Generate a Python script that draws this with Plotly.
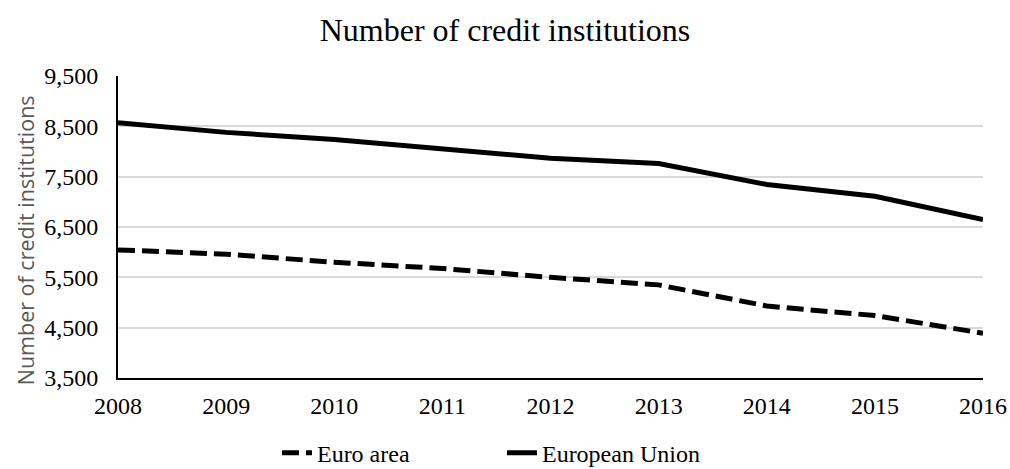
import plotly.graph_objects as go

years = [2008, 2009, 2010, 2011, 2012, 2013, 2014, 2015, 2016]
euro_area = [6045, 5960, 5800, 5675, 5500, 5350, 4930, 4740, 4390]
european_union = [8570, 8380, 8240, 8060, 7865, 7760, 7345, 7110, 6650]
y_ticks = [3500, 4500, 5500, 6500, 7500, 8500, 9500]
y_tick_labels = ["3,500", "4,500", "5,500", "6,500", "7,500", "8,500", "9,500"]

serif = "Liberation Serif"

fig = go.Figure()
fig.add_trace(go.Scatter(x=years, y=euro_area, mode="lines", name="Euro area",
                         line=dict(color="black", width=5, dash="17px,7px")))
fig.add_trace(go.Scatter(x=years, y=european_union, mode="lines", name="European Union",
                         line=dict(color="black", width=5)))

fig.update_layout(
    width=1010, height=469,
    margin=dict(l=118, r=27, t=76, b=91, autoexpand=False),
    paper_bgcolor="white", plot_bgcolor="white",
    title=dict(text="Number of credit institutions", x=0.5, xanchor="center",
               y=0.937, yanchor="middle",
               font=dict(family=serif, size=32, color="black")),
    font=dict(family=serif, size=24, color="black"),
    xaxis=dict(range=[2008, 2016], tickmode="array", tickvals=years,
               ticktext=[str(y) for y in years], showgrid=False,
               showline=True, linecolor="black", linewidth=2,
               ticks="", zeroline=False, ticklabelstandoff=5,
               tickfont=dict(family=serif, size=24, color="black")),
    yaxis=dict(range=[3500, 9500], tickmode="array", tickvals=y_ticks,
               ticktext=y_tick_labels, showgrid=True, gridcolor="#d9d9d9",
               gridwidth=1.5, showline=True, linecolor="black", linewidth=2,
               ticks="", zeroline=False, ticklabelstandoff=13,
               tickfont=dict(family=serif, size=24, color="black")),
    annotations=[dict(text="Number of credit institutions", xref="paper", yref="paper",
                      x=-0.106, y=0.457, xanchor="center", yanchor="middle",
                      textangle=-90, showarrow=False,
                      font=dict(family="Open Sans", size=21.5, color="#595959"))],
    legend=dict(orientation="h", x=0.497, xanchor="center", xref="container",
                y=0.034, yanchor="middle", yref="container",
                font=dict(family=serif, size=24, color="black"),
                entrywidth=180, entrywidthmode="pixels",
                traceorder="normal"),
    showlegend=True,
)

fig.write_html("out.html")
